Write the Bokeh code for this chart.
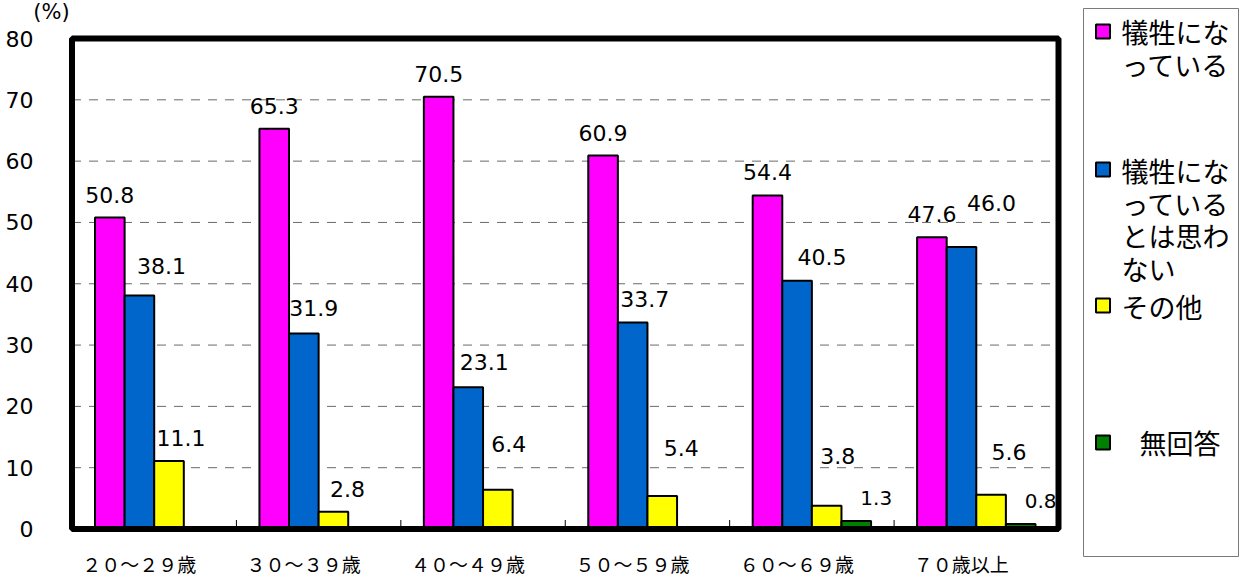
from bokeh.plotting import figure
from bokeh.models import Range1d, FixedTicker, ColumnDataSource
from bokeh.core.properties import value
from bokeh.embed import file_html
from bokeh.resources import INLINE

# ---------------- data ----------------
categories = ["２０～２９歳", "３０～３９歳", "４０～４９歳", "５０～５９歳", "６０～６９歳", "７０歳以上"]
series_names = ["犠牲にな\nっている", "犠牲にな\nっている\nとは思わ\nない", "その他", "無回答"]
victim = [50.8, 65.3, 70.5, 60.9, 54.4, 47.6]
not_victim = [38.1, 31.9, 23.1, 33.7, 40.5, 46.0]
other = [11.1, 2.8, 6.4, 5.4, 3.8, 5.6]
no_answer = [0, 0, 0, 0, 1.3, 0.8]
y_ticks = [0, 10, 20, 30, 40, 50, 60, 70, 80]
y_max = 80

series_values = [victim, not_victim, other, no_answer]

# ---------------- styling / layout (pixels) ----------------
colors = ["#FF00FF", "#0066CC", "#FFFF00", "#008000"]
label_dx = [[0] * 6, [22, 10, 16, 12, 25, 30], [12, 14, 11, 19, 11, 18], [20] * 6]
label_gap = [[15] * 6, [21, 17, 17, 15, 16, 36], [15, 15, 38, 40, 42, 35], [15] * 6]
label_size = ["22px", "22px", "22px", "20px"]
num_font = value("DejaVu Sans")
jp_font = value("Noto Sans CJK JP")

n = len(categories)
bar_w = 0.18

# page position of the plotting area box
CL, CR, CT, CB = 72.5, 1059.0, 39.0, 529.5
# page position of the drawing frame (includes legend and category-name area)
FL, FR, FT, FB = 35.0, 1240.0, 1.0, 578.0
PAGE0 = 1.0
sxu = (CR - CL) / n
syu = (CB - CT) / y_max

def fx(px):
    return (px - CL) / sxu

def fy(py):
    return (CB - py) / syu

BL = int(FL - PAGE0)
W = int(FR - PAGE0)
H = int(FB - PAGE0)

p = figure(width=W, height=H,
           x_range=Range1d(fx(FL), fx(FR)), y_range=Range1d(fy(FB), fy(FT)),
           output_backend="svg", toolbar_location=None, x_axis_location=None,
           min_border_left=BL, min_border_right=0, min_border_top=0, min_border_bottom=0)
p.background_fill_color = "white"
p.border_fill_color = "white"
p.outline_line_color = None
p.grid.visible = False

# y axis (values)
p.yaxis.ticker = FixedTicker(ticks=y_ticks)
p.yaxis.major_tick_in = 0
p.yaxis.major_tick_out = 0
p.yaxis.minor_tick_in = 0
p.yaxis.minor_tick_out = 0
p.yaxis.minor_tick_line_color = None
p.yaxis.axis_line_color = None
p.yaxis.major_label_standoff = 1
p.yaxis.major_label_text_font = "DejaVu Sans"
p.yaxis.major_label_text_font_size = "22px"
p.yaxis.major_label_text_color = "black"

# dashed gridlines inside the plotting box
grid_y = y_ticks[1:-1]
p.segment(x0=[0] * len(grid_y), x1=[n] * len(grid_y), y0=grid_y, y1=grid_y,
          line_color="#6a6a6a", line_dash="9 8", line_width=1)

# bars and value labels
for k, vals in enumerate(series_values):
    keep = [i for i, v in enumerate(vals) if v > 0]
    src = ColumnDataSource(dict(
        x=[i + 0.5 + (k - 1.5) * bar_w for i in keep],
        top=[vals[i] for i in keep],
        label=[f"{vals[i]:.1f}" for i in keep],
        dx=[label_dx[k][i] for i in keep],
        dy=[-(label_gap[k][i] + 8) for i in keep],
    ))
    p.vbar(x="x", top="top", bottom=0, width=bar_w, source=src,
           fill_color=colors[k], line_color="black", line_width=2)
    p.text(x="x", y="top", text="label", x_offset="dx", y_offset="dy", source=src,
           text_align="center", text_baseline="middle",
           text_font=num_font, text_font_size=label_size[k], text_color="black")

# group separators (small inward ticks on the bottom edge)
sep = list(range(1, n))
p.segment(x0=sep, x1=sep, y0=[0] * len(sep), y1=[9 / syu] * len(sep),
          line_color="black", line_width=1)

# thick border of the plotting box
p.quad(left=[0], right=[n], bottom=[0], top=[y_max], fill_color=None,
       line_color="black", line_width=6)

# category names under each group
p.text(x=[i + 0.5 for i in range(n)], y=[fy(563.5)] * n, text=categories, x_offset=-15,
       text_align="center", text_baseline="middle",
       text_font=jp_font, text_font_size="19px", text_color="black")

# unit label
p.text(x=[fx(52)], y=[fy(12.5)], text=["(%)"], text_align="center", text_baseline="middle",
       text_font=num_font, text_font_size="21px", text_color="black")

# ---------------- legend ----------------
p.quad(left=[fx(1084)], right=[fx(1239)], top=[fy(9)], bottom=[fy(557)], fill_color=None,
       line_color="#7a7a7a", line_width=1)
sq_y = [32, 170, 306, 443]
txt_y = [32, 171, 307, 443]
txt_x = [1122, 1122, 1122, 1140]
line_step = 32.5
p.scatter(x=[fx(1103.5)] * 4, y=[fy(v) for v in sq_y], marker="square", size=14,
          fill_color=colors, line_color="black", line_width=2)
for k, name in enumerate(series_names):
    lines = name.split("\n")
    p.text(x=[fx(txt_x[k])] * len(lines),
           y=[fy(txt_y[k] + j * line_step) for j in range(len(lines))],
           text=lines, text_align="left", text_baseline="middle",
           text_font=jp_font, text_font_size="27px", text_color="black")

open("out.html", "w").write(file_html(p, INLINE))
